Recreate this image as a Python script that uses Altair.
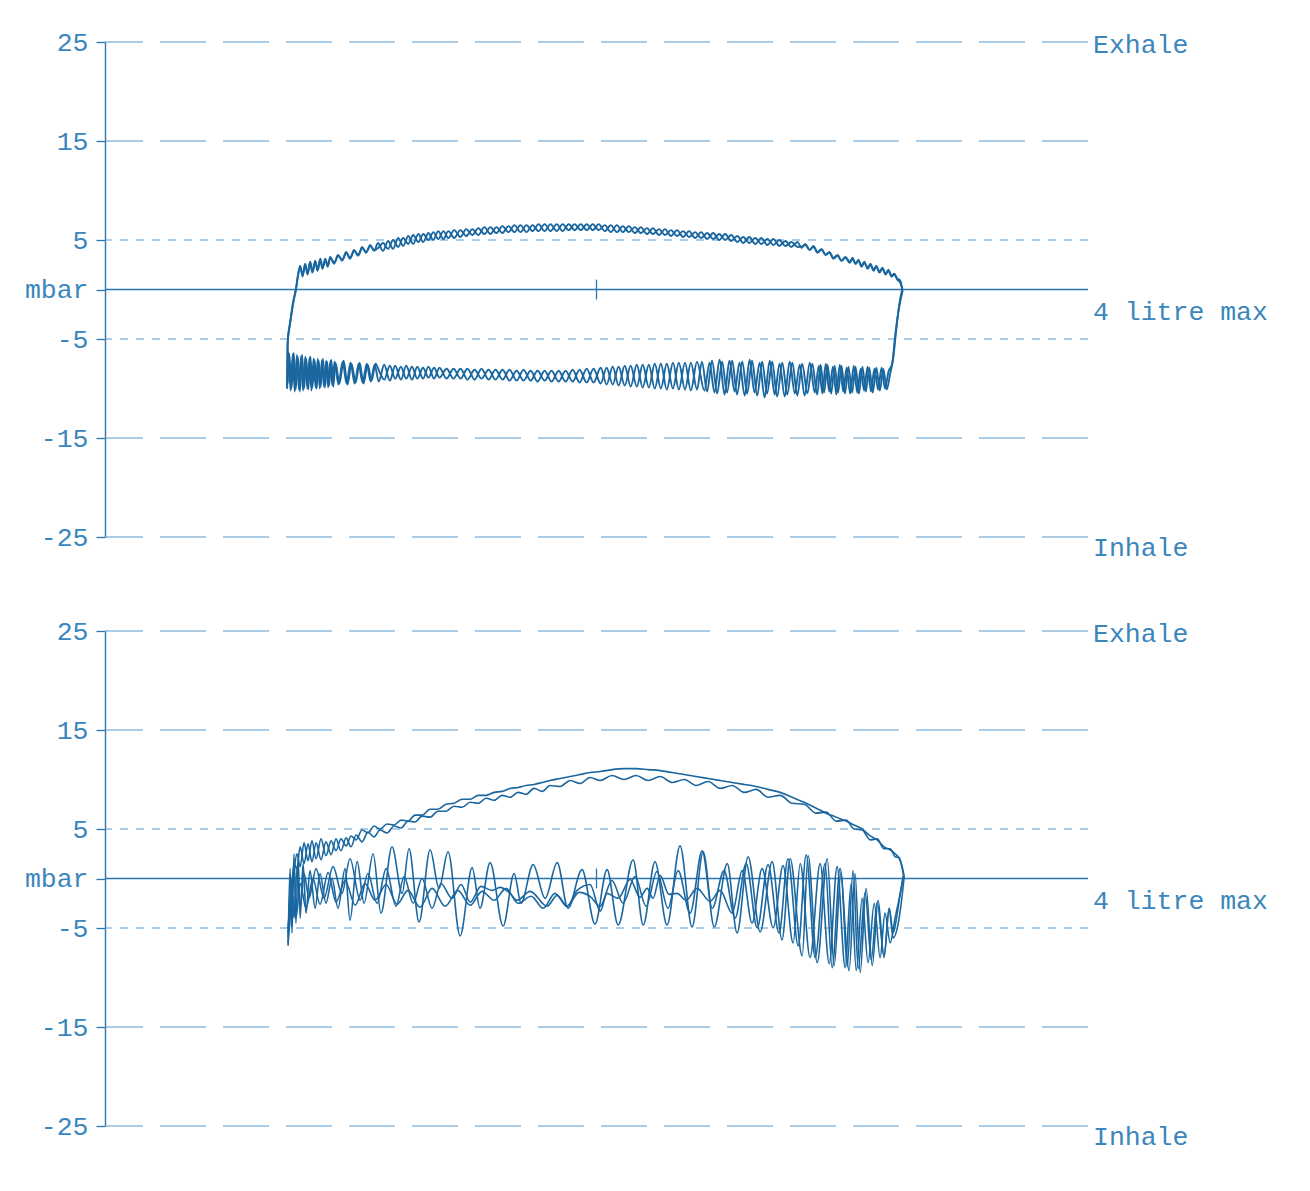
import altair as alt
import pandas as pd

# ---------------- values ----------------
VOLUME_MAX_ML = 4000          # "4 litre max" at the right end of the volume axis
CENTRE_ML = 2000              # small centre marker on the zero line
Y_TICKS = [25, 15, 5, 0, -5, -15, -25]
LONG_DASH_LEVELS = [25, 15, -15, -25]
SHORT_DASH_LEVELS = [5, -5]
RIGHT_LABELS = ["Exhale", "4 litre max", "Inhale"]
RIGHT_LABEL_LEVELS = [25, 0, -25]

# top panel: two breaths, (volume ml, pressure mbar)
TOP_UP_A = [
    (741, -10.0), (743, -5.5), (753, -3.5), (765, -1.5), (777, 0.0), (786, 1.5),
    (794, 2.4), (804, 1.3), (814, 2.6), (824, 1.5), (834, 2.7), (844, 1.7), (855, 2.9), (865, 1.9), (875, 3.0),
    (885, 2.1), (896, 3.1), (906, 2.3), (916, 3.3),
    (932, 2.6), (948, 3.5), (965, 2.9), (981, 3.8), (997, 3.1), (1013, 4.0), (1030, 3.4), (1046, 4.3), (1062, 3.7),
    (1079, 4.5), (1095, 3.9), (1111, 4.7),
    (1131, 3.9), (1152, 4.9), (1172, 4.1), (1193, 5.2), (1213, 4.4), (1234, 5.4), (1254, 4.6), (1275, 5.6),
    (1295, 4.8), (1316, 5.7), (1336, 5.0), (1356, 5.9), (1377, 5.1), (1397, 5.9),
    (1421, 5.2), (1446, 6.0), (1470, 5.4), (1495, 6.1), (1519, 5.5), (1544, 6.3), (1568, 5.6), (1593, 6.3),
    (1617, 5.7), (1642, 6.4), (1666, 5.8), (1691, 6.5), (1715, 5.8), (1740, 6.5), (1764, 5.9), (1789, 6.6),
    (1813, 5.9), (1838, 6.6), (1862, 5.9), (1887, 6.6), (1911, 6.0), (1936, 6.6), (1960, 6.0), (1985, 6.6), (2009, 6.0),
    (2034, 6.5), (2058, 5.8), (2083, 6.5), (2107, 5.8), (2132, 6.4), (2156, 5.7), (2181, 6.3), (2205, 5.6),
    (2230, 6.2), (2254, 5.5), (2279, 6.1), (2303, 5.4), (2328, 6.0), (2352, 5.3), (2377, 5.9), (2401, 5.2), (2426, 5.8),
    (2450, 5.1), (2475, 5.7), (2499, 5.0), (2524, 5.6), (2548, 4.9), (2573, 5.4), (2597, 4.7), (2622, 5.3),
    (2646, 4.6), (2671, 5.2), (2695, 4.5), (2720, 5.1), (2744, 4.4), (2769, 4.9), (2793, 4.3), (2818, 4.8),
    (2834, 4.2), (2850, 4.6), (2867, 4.0), (2883, 4.4), (2899, 3.8), (2916, 4.1), (2932, 3.5), (2948, 3.8),
    (2964, 3.2), (2981, 3.5), (2997, 2.9), (3013, 3.3), (3030, 2.8),
    (3042, 3.2), (3054, 2.6), (3066, 3.0), (3078, 2.4), (3090, 2.8), (3103, 2.2), (3115, 2.6), (3127, 2.0),
    (3139, 2.4), (3151, 1.8), (3164, 2.2), (3176, 1.6), (3188, 2.0), (3200, 1.4), (3212, 1.6), (3224, 1.1),
    (3236, 0.9), (3244, 0.0),
]
TOP_UP_B = [
    (741, -9.6), (744, -5.0), (754, -3.2), (766, -1.2), (778, 0.2), (787, 1.7),
    (795, 2.2), (805, 1.5), (815, 2.5), (825, 1.6), (835, 2.8), (845, 1.8), (856, 2.8), (866, 2.0), (876, 3.1),
    (886, 2.2), (897, 3.0), (907, 2.4), (917, 3.2),
    (933, 2.7), (949, 3.4), (966, 3.0), (982, 3.7), (998, 3.2), (1014, 3.9), (1031, 3.5), (1047, 4.2), (1063, 3.8),
    (1080, 4.4), (1096, 4.0), (1112, 4.2),
    (1131, 4.7), (1152, 4.1), (1172, 5.0), (1193, 4.3), (1213, 5.2), (1234, 4.6), (1254, 5.5), (1275, 4.8),
    (1295, 5.6), (1316, 5.0), (1336, 5.8), (1356, 5.1), (1377, 5.9), (1397, 5.2),
    (1421, 6.0), (1446, 5.3), (1470, 6.1), (1495, 5.5), (1519, 6.2), (1544, 5.6), (1568, 6.3), (1593, 5.7),
    (1617, 6.4), (1642, 5.8), (1666, 6.5), (1691, 5.8), (1715, 6.5), (1740, 5.9), (1764, 6.6), (1789, 5.9),
    (1813, 6.6), (1838, 5.9), (1862, 6.6), (1887, 6.0), (1911, 6.6), (1936, 6.0), (1960, 6.6), (1985, 6.0), (2009, 6.6),
    (2034, 5.9), (2058, 6.5), (2083, 5.8), (2107, 6.4), (2132, 5.8), (2156, 6.3), (2181, 5.7), (2205, 6.2),
    (2230, 5.6), (2254, 6.1), (2279, 5.5), (2303, 6.0), (2328, 5.4), (2352, 5.9), (2377, 5.3), (2401, 5.8), (2426, 5.2),
    (2450, 5.7), (2475, 5.1), (2499, 5.6), (2524, 5.0), (2548, 5.5), (2573, 4.8), (2597, 5.3), (2622, 4.7),
    (2646, 5.2), (2671, 4.6), (2695, 5.1), (2720, 4.5), (2744, 5.0), (2769, 4.4), (2793, 4.8), (2818, 4.3),
    (2834, 4.35), (2850, 4.5), (2867, 4.0), (2883, 4.3), (2899, 3.7), (2916, 4.0), (2932, 3.5), (2948, 3.7),
    (2964, 3.1), (2981, 3.4), (2997, 2.9), (3013, 3.2), (3030, 2.7),
    (3042, 3.1), (3054, 2.6), (3066, 2.9), (3078, 2.3), (3090, 2.7), (3103, 2.1), (3115, 2.5), (3127, 1.9),
    (3139, 2.3), (3151, 1.7), (3164, 2.1), (3176, 1.5), (3188, 1.9), (3200, 1.3), (3212, 1.5), (3224, 1.0),
    (3236, 0.7), (3246, -0.1),
]
TOP_LO_A = [
    (741, -10.0), (747, -6.3), (755, -10.2), (764, -6.5), (772, -10.3), (781, -6.6), (789, -10.1), (798, -6.7),
    (806, -10.2), (815, -6.8), (823, -10.0), (832, -6.9), (840, -10.2), (849, -7.0), (857, -9.9), (866, -7.0),
    (874, -10.0), (883, -7.1), (891, -9.8), (900, -7.2), (908, -9.9), (917, -7.2), (925, -9.7), (934, -7.3),
    (950, -9.6), (967, -7.3), (983, -9.5), (999, -7.4), (1016, -9.5), (1032, -7.5), (1048, -9.4), (1065, -7.5),
    (1081, -9.3), (1097, -7.6), (1114, -9.3),
    (1136, -7.6), (1159, -9.2), (1181, -7.7), (1204, -9.1), (1226, -7.7), (1249, -9.1), (1271, -7.8), (1294, -9.0),
    (1316, -7.8), (1339, -9.0), (1361, -7.9),
    (1390, -9.0), (1418, -8.0), (1447, -9.0), (1475, -8.0), (1504, -9.1), (1532, -8.0), (1561, -9.1), (1589, -8.1),
    (1618, -9.1), (1646, -8.1), (1675, -9.2), (1703, -8.1), (1732, -9.2), (1760, -8.2), (1789, -9.2), (1817, -8.2),
    (1846, -9.3), (1874, -8.2), (1903, -9.3), (1931, -8.1), (1960, -9.4), (1988, -8.0), (2017, -9.5),
    (2041, -7.9), (2066, -9.6), (2090, -7.8), (2115, -9.7), (2139, -7.7), (2164, -9.8), (2188, -7.6), (2213, -9.9),
    (2237, -7.5), (2262, -10.0), (2286, -7.5), (2311, -10.0), (2335, -7.4), (2360, -10.1), (2384, -7.4), (2409, -10.1),
    (2429, -7.3), (2450, -10.3), (2470, -7.2), (2491, -10.5), (2511, -7.3), (2531, -10.4), (2552, -7.2), (2572, -10.6),
    (2593, -7.3), (2613, -10.5), (2633, -7.2), (2654, -10.7), (2674, -7.3), (2694, -10.5), (2715, -7.3), (2735, -10.8),
    (2756, -7.4), (2776, -10.6), (2797, -7.4), (2817, -10.7), (2837, -7.5), (2858, -10.5), (2878, -7.5), (2898, -10.6),
    (2912, -7.6), (2926, -10.4), (2940, -7.6), (2955, -10.5), (2969, -7.7), (2983, -10.4), (2997, -7.7), (3011, -10.5),
    (3025, -7.8), (3040, -10.4), (3054, -7.8), (3068, -10.5), (3082, -7.8), (3096, -10.3), (3110, -7.9), (3124, -10.4),
    (3139, -7.9), (3153, -10.2), (3167, -8.0), (3181, -10.1), (3195, -8.5),
    (3207, -7.0), (3220, -4.0), (3232, -1.5), (3244, 0.0),
]
TOP_LO_B = [
    (743, -9.5), (750, -6.5), (759, -10.0), (768, -6.4), (776, -10.1), (785, -6.8), (793, -10.3), (802, -6.6),
    (810, -10.0), (819, -7.0), (827, -10.1), (836, -6.8), (844, -9.9), (853, -7.1), (861, -10.0), (870, -7.2),
    (878, -9.8), (887, -7.0), (895, -9.9), (904, -7.3), (912, -9.7), (921, -7.1), (929, -9.8), (938, -7.4),
    (954, -9.5), (971, -7.2), (987, -9.6), (1003, -7.5), (1020, -9.4), (1036, -7.4), (1052, -9.5), (1069, -7.6),
    (1085, -9.2), (1101, -7.5), (1118, -8.4),
    (1136, -9.1), (1159, -7.7), (1181, -9.0), (1204, -7.8), (1226, -9.0), (1249, -7.8), (1271, -9.0), (1294, -7.9),
    (1316, -8.9), (1339, -7.9), (1361, -8.9),
    (1390, -8.0), (1418, -9.0), (1447, -8.0), (1475, -9.1), (1504, -8.1), (1532, -9.0), (1561, -8.1), (1589, -9.1),
    (1618, -8.1), (1646, -9.2), (1675, -8.2), (1703, -9.2), (1732, -8.2), (1760, -9.3), (1789, -8.2), (1817, -9.3),
    (1846, -8.2), (1874, -9.3), (1903, -8.1), (1931, -9.4), (1960, -8.0), (1988, -9.4), (2017, -7.9),
    (2041, -9.6), (2066, -7.8), (2090, -9.7), (2115, -7.7), (2139, -9.8), (2164, -7.6), (2188, -9.9), (2213, -7.6),
    (2237, -10.0), (2262, -7.5), (2286, -10.1), (2311, -7.4), (2335, -10.1), (2360, -7.4), (2384, -10.2), (2409, -7.3),
    (2439, -10.2), (2460, -7.4), (2480, -10.4), (2501, -7.1), (2521, -10.6), (2541, -7.2), (2562, -10.3), (2582, -7.4),
    (2603, -10.7), (2623, -7.1), (2643, -10.4), (2664, -7.4), (2684, -10.9), (2705, -7.2), (2725, -10.6), (2745, -7.5),
    (2766, -10.8), (2786, -7.3), (2807, -10.5), (2827, -7.6), (2847, -10.7), (2868, -7.4), (2888, -10.4), (2905, -7.7),
    (2919, -10.5), (2933, -7.5), (2947, -10.3), (2962, -7.8), (2976, -10.6), (2990, -7.6), (3004, -10.3), (3018, -7.9),
    (3032, -10.5), (3047, -7.7), (3061, -10.4), (3075, -8.0), (3089, -10.2), (3103, -7.8), (3117, -10.3), (3131, -8.0),
    (3146, -10.1), (3160, -7.9), (3174, -10.0), (3188, -8.3),
    (3203, -7.5), (3216, -4.5), (3230, -2.0), (3246, -0.1),
]

# bottom panel: exhale strands and three inhale traces
BOT_UP_A = [
    (745, -6.5), (757, -3.0), (769, 0.5), (781, 2.5), (794, 1.2), (810, 3.6), (826, 1.8), (842, 3.8), (859, 2.0),
    (879, 4.0), (899, 2.3), (920, 3.8), (940, 2.8), (960, 4.0), (981, 3.3), (1001, 4.3), (1022, 3.9), (1046, 4.9),
    (1070, 4.6), (1095, 5.3), (1119, 5.0), (1148, 5.5), (1176, 5.4), (1205, 5.9), (1233, 5.8), (1262, 6.4),
    (1290, 6.4), (1323, 7.0), (1355, 7.0), (1388, 7.5), (1420, 7.6), (1453, 8.0), (1486, 8.0), (1518, 8.4),
    (1551, 8.4), (1583, 8.7), (1616, 8.8), (1648, 9.1), (1681, 9.2), (1713, 9.4), (1746, 9.5), (1779, 9.7),
    (1811, 9.9), (1852, 10.1), (1893, 10.3), (1933, 10.5), (1974, 10.7), (2015, 10.8), (2063, 11.0), (2112, 11.1),
    (2161, 11.1), (2210, 11.0), (2259, 10.9), (2308, 10.7), (2357, 10.5), (2405, 10.3), (2454, 10.1), (2503, 9.9),
    (2552, 9.7), (2601, 9.5), (2650, 9.3), (2698, 9.0), (2747, 8.7), (2796, 8.2), (2845, 7.7), (2894, 7.1),
    (2934, 6.6), (2975, 6.2), (3016, 5.8), (3048, 5.4), (3081, 5.0), (3114, 4.3), (3142, 3.9), (3170, 3.2),
    (3195, 2.9), (3215, 2.5), (3232, 2.0), (3244, 1.2), (3252, 0.2),
]
BOT_UP_B = [
    (745, -5.5), (757, -2.0), (769, 1.5), (781, 1.0), (794, 3.2), (810, 1.5), (826, 3.5), (842, 1.7), (859, 3.6),
    (879, 1.9), (899, 3.7), (920, 2.4), (940, 4.0), (960, 2.8), (981, 4.1), (1001, 3.2), (1022, 4.4), (1046, 3.7),
    (1070, 4.7), (1095, 4.2), (1119, 4.9), (1148, 4.6), (1176, 5.3), (1205, 5.1), (1233, 5.8), (1262, 5.7),
    (1290, 6.3), (1323, 6.2), (1355, 6.8), (1388, 6.8), (1420, 7.3), (1453, 7.2), (1486, 7.7), (1518, 7.6),
    (1551, 8.1), (1583, 7.9), (1616, 8.4), (1648, 8.2), (1681, 8.7), (1713, 8.5), (1746, 9.1), (1779, 8.8),
    (1811, 9.4), (1852, 9.3), (1893, 9.9), (1933, 9.6), (1974, 10.2), (2015, 9.9), (2063, 10.4), (2112, 10.0),
    (2161, 10.4), (2210, 9.9), (2259, 10.3), (2308, 9.7), (2357, 10.0), (2405, 9.4), (2454, 9.8), (2503, 9.1),
    (2552, 9.4), (2601, 8.7), (2650, 9.0), (2698, 8.2), (2747, 8.4), (2796, 7.6), (2845, 7.5), (2894, 6.6),
    (2934, 6.7), (2975, 5.8), (3016, 5.9), (3048, 5.0), (3081, 4.9), (3114, 3.9), (3142, 4.0), (3170, 3.0),
    (3195, 3.0), (3215, 2.2), (3232, 2.1), (3244, 1.0), (3252, 0.0),
]
BOT_LO_1 = [
    (745, -6.8), (753, 1.0), (761, -5.5), (769, 2.5), (777, -4.5), (786, 2.0), (794, -4.0), (806, 1.5), (818, -3.5),
    (834, 0.8), (855, -3.0), (875, 0.5), (899, -2.5), (924, 0.0), (948, -3.0), (977, 1.0), (997, -4.2), (1026, 1.7),
    (1054, -2.5), (1091, 2.5), (1123, -3.5), (1168, 3.2), (1209, -1.5), (1237, 3.0), (1278, -4.4), (1323, 2.9),
    (1359, -1.0), (1396, 2.7), (1445, -5.8), (1494, 1.1), (1526, -3.0), (1567, 1.6), (1620, -4.8), (1665, 0.5),
    (1693, -2.5), (1742, 1.4), (1791, -2.0), (1840, 1.6), (1884, -3.0), (1941, 0.9), (1994, -4.6), (2043, 0.9),
    (2088, -4.7), (2149, 1.9), (2190, -4.7), (2238, 1.7), (2287, -4.7), (2340, 3.3), (2389, -4.9), (2434, 2.7),
    (2479, -4.9), (2532, 1.5), (2572, -5.5), (2617, 2.2), (2666, -5.4), (2715, 1.7), (2755, -6.2), (2788, 2.0),
    (2837, -7.8), (2861, 2.3), (2898, -8.5), (2939, 2.0), (2967, -8.8), (2995, 0.6), (3020, -8.9), (3044, 0.8),
    (3065, -9.1), (3093, -1.4), (3118, -8.2), (3142, -2.4), (3170, -7.8), (3191, -3.0), (3207, -5.5), (3224, -3.5),
    (3236, -1.5), (3248, 0.3),
]
BOT_LO_2 = [
    (745, -6.0), (757, 0.0), (769, -4.0), (781, 1.0), (794, -3.0), (810, 0.5), (830, -2.0), (859, 1.0), (891, -2.0),
    (928, 1.2), (964, -1.5), (997, 2.0), (1038, -2.2), (1070, 0.5), (1107, -2.5), (1144, 1.0), (1184, -2.8),
    (1217, 0.2), (1254, -2.5), (1290, 0.0), (1331, -3.0), (1367, -0.5), (1412, -2.0), (1449, -0.6), (1486, -2.4),
    (1530, -0.8), (1575, -1.2), (1608, -0.9), (1648, -1.5), (1677, -2.2), (1730, -1.3), (1799, -2.8), (1840, -1.7),
    (1880, -2.8), (1921, -1.2), (1974, -0.6), (2015, -3.3), (2043, -1.5), (2088, -2.0), (2137, -0.1), (2177, -1.9),
    (2206, -1.0), (2230, -2.0), (2259, 0.3), (2295, -1.6), (2328, -1.5), (2364, -2.2), (2409, -1.0), (2462, -2.3),
    (2503, -1.2), (2552, -3.5), (2593, 0.8), (2633, -4.5), (2674, 1.0), (2719, -5.0), (2759, 1.3), (2800, -6.5),
    (2829, 1.5), (2869, -8.0), (2910, 1.5), (2947, -8.6), (2979, 1.2), (3012, -9.0), (3036, -0.5), (3057, -9.3),
    (3081, -2.0), (3105, -8.5), (3130, -2.5), (3154, -8.0), (3174, -3.5), (3195, -6.5), (3215, -4.0), (3232, -2.0),
    (3248, 0.0),
]
BOT_LO_3 = [
    (745, -5.0), (761, -1.5), (777, -4.0), (794, -0.5), (818, -3.0), (846, 0.0), (875, -2.6), (908, 0.6), (940, -2.4),
    (977, -0.2), (1018, -2.7), (1058, -0.5), (1099, -2.2), (1144, -0.6), (1188, -2.6), (1233, -1.2), (1282, -2.9),
    (1331, -1.0), (1384, -2.8), (1436, -1.2), (1486, -2.7), (1534, -1.3), (1583, -2.2), (1632, -1.0), (1681, -2.5),
    (1734, -1.8), (1783, -3.0), (1831, -1.5), (1880, -2.8), (1929, -1.4), (1974, -1.8), (2015, -2.8), (2063, -0.2),
    (2108, -2.5), (2157, 0.2), (2202, -2.8), (2246, 0.7), (2291, -3.0), (2332, 0.8), (2381, -3.5), (2430, 2.8),
    (2471, -3.0), (2519, 0.8), (2564, -4.0), (2609, 1.5), (2654, -5.0), (2698, 1.4), (2743, -5.5), (2779, 2.0),
    (2821, -6.8), (2853, 2.4), (2890, -8.0), (2930, 1.5), (2959, -9.0), (2991, 1.0), (3028, -9.3), (3052, 0.5),
    (3073, -9.5), (3097, -1.0), (3122, -8.8), (3146, -2.2), (3170, -8.0), (3191, -3.0), (3207, -6.0), (3228, -4.5),
    (3240, -2.5), (3252, 0.2),
]

# ---------------- styling ----------------
TRACE = "#1a67a0"
GRID = "#5b9cd0"
AXIS_COL = "#2a76ae"
TEXT_COL = "#3a86bd"
FONT = "Liberation Mono"
FS = 26.5

X_SCALE = alt.Scale(domain=[0, VOLUME_MAX_ML], nice=False, zero=False)
Y_SCALE = alt.Scale(domain=[-25, 25], nice=False, zero=False)
Y_AXIS = alt.Axis(
    values=Y_TICKS,
    labelExpr="datum.value == 0 ? 'mbar' : '' + datum.value",
    title=None, grid=False,
    domainColor=AXIS_COL, domainWidth=1.4,
    tickColor=AXIS_COL, tickSize=9, tickWidth=1.3,
    labelFont=FONT, labelFontSize=FS, labelColor=TEXT_COL, labelPadding=8,
    labelFlush=False, labelOverlap=False, minExtent=92, maxExtent=92,
)


def trace_frame(traces):
    rows = []
    for name, pts in traces.items():
        for i, (ml, mbar) in enumerate(pts):
            rows.append({"trace": name, "i": i, "ml": ml, "mbar": mbar})
    return pd.DataFrame(rows)


def panel(traces, stroke_w):
    df = trace_frame(traces)

    long_rules = alt.Chart(pd.DataFrame({"level": LONG_DASH_LEVELS})).mark_rule(
        color=GRID, strokeDash=[46, 17], strokeWidth=1.1
    ).encode(y=alt.Y("level:Q", scale=Y_SCALE, axis=Y_AXIS))

    short_rules = alt.Chart(pd.DataFrame({"level": SHORT_DASH_LEVELS})).mark_rule(
        color=GRID, strokeDash=[8, 8], strokeWidth=1.1
    ).encode(y=alt.Y("level:Q", scale=Y_SCALE, axis=Y_AXIS))

    zero_rule = alt.Chart(pd.DataFrame({"level": [0]})).mark_rule(
        color=AXIS_COL, strokeWidth=1.4
    ).encode(y=alt.Y("level:Q", scale=Y_SCALE, axis=Y_AXIS))

    centre = alt.Chart(pd.DataFrame({"ml": [CENTRE_ML], "lo": [-1.0], "hi": [1.0]})).mark_rule(
        color=AXIS_COL, strokeWidth=1.3
    ).encode(
        x=alt.X("ml:Q", scale=X_SCALE, axis=None),
        y=alt.Y("lo:Q", scale=Y_SCALE, axis=Y_AXIS),
        y2="hi:Q",
    )

    lines = alt.Chart(df).mark_line(
        interpolate="monotone", color=TRACE, strokeWidth=stroke_w
    ).encode(
        x=alt.X("ml:Q", scale=X_SCALE, axis=None),
        y=alt.Y("mbar:Q", scale=Y_SCALE, axis=Y_AXIS),
        detail="trace:N",
        order="i:Q",
    )

    layers = [long_rules, short_rules, zero_rule, centre, lines]
    offsets = [3, 22, 11]
    for label, level, dy in zip(RIGHT_LABELS, RIGHT_LABEL_LEVELS, offsets):
        t = alt.Chart(pd.DataFrame({"label": [label], "level": [level], "ml": [VOLUME_MAX_ML]})).mark_text(
            align="left", baseline="middle", dx=5, dy=dy, font=FONT, fontSize=FS, color=TEXT_COL
        ).encode(
            x=alt.X("ml:Q", scale=X_SCALE, axis=None),
            y=alt.Y("level:Q", scale=Y_SCALE, axis=Y_AXIS),
            text="label:N",
        )
        layers.append(t)

    return alt.layer(*layers).properties(width=983, height=495)


top = panel({"a_up": TOP_UP_A, "b_up": TOP_UP_B, "a_lo": TOP_LO_A, "b_lo": TOP_LO_B}, 1.9)
bottom = panel({"a_up": BOT_UP_A, "b_up": BOT_UP_B, "l1": BOT_LO_1, "l2": BOT_LO_2, "l3": BOT_LO_3}, 1.6)

chart = alt.vconcat(top, bottom, spacing=94, bounds="flush").properties(
    padding={"left": 5, "top": 21, "right": 5, "bottom": 5},
    background="white",
).configure_view(stroke=None)

chart.save("out.html", embed_options={"renderer": "svg", "actions": False})
